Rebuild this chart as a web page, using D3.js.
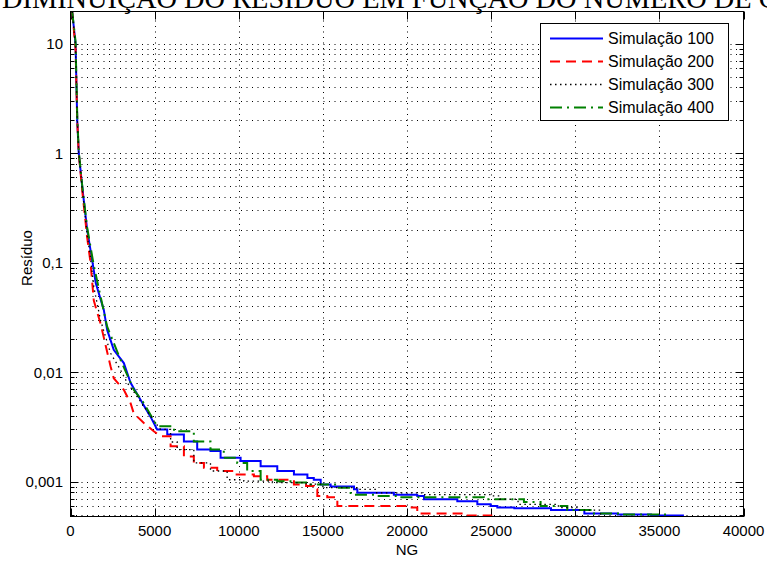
<!DOCTYPE html>
<html><head><meta charset="utf-8">
<script src="https://cdn.jsdelivr.net/npm/d3@7"></script>
<style>body{margin:0;background:#fff;overflow:hidden} svg{display:block}</style>
</head><body><svg id="c" width="767" height="561"></svg>
<script>
// ---------- data ----------
const title = "DIMINUIÇÃO DO RESÍDUO EM FUNÇÃO DO NÚMERO DE GERAÇÕES";
const xLabel = "NG";
const yLabel = "Resíduo";
const xTicks = [0, 5000, 10000, 15000, 20000, 25000, 30000, 35000, 40000];
const yTicks = [10, 1, 0.1, 0.01, 0.001];
const yTickLabels = ["10", "1", "0,1", "0,01", "0,001"];
const seriesNames = ["Simulação 100", "Simulação 200", "Simulação 300", "Simulação 400"];

const sim100 = [[100,19.7],[300,10],[400,2],[490,1],[700,0.49],[990,0.2],[1190,0.13],[1385,0.085],[1500,0.065],
  [1980,0.037],[2180,0.0243],[2570,0.016],[3170,0.0121],[3570,0.008],[4160,0.0056],[4760,0.0039],[5150,0.003],
  [5750,0.0027],[6740,0.00233],[7530,0.00196],[8320,0.0019],[8920,0.00165],[10110,0.00154],[11300,0.00138],
  [12290,0.00125],[13280,0.00116],[14080,0.00108],[14460,0.00104],[14870,0.00094],[15460,0.0009],[16850,0.00085],
  [17050,0.00079],[19220,0.00076],[20610,0.00074],[21010,0.00069],[22990,0.00066],[24180,0.00062],[24970,0.0006],
  [25370,0.00058],[26380,0.00057],[28560,0.00055],[30540,0.00051],[32520,0.0005],[34500,0.00049],[36460,0.00049]];

const sim200 = [[100,19.7],[300,9],[400,2],[490,1],[700,0.45],[990,0.17],[1190,0.1],[1385,0.045],[1780,0.028],
  [2380,0.0113],[2570,0.0088],[3170,0.0069],[3570,0.0052],[3760,0.0042],[4360,0.00343],[4950,0.00288],[5350,0.0026],
  [5950,0.0021],[6740,0.0017],[7330,0.00148],[7930,0.00134],[8720,0.00125],[9710,0.00116],[10900,0.00112],
  [11690,0.00104],[13280,0.00094],[14000,0.00091],[14470,0.00085],[14670,0.00074],[15260,0.00072],[15860,0.0006],
  [19630,0.0006],[20220,0.00058],[20610,0.00051],[23500,0.00049],[25070,0.00049]];

const sim300 = [[100,19.7],[300,9.5],[400,2.1],[490,1],[700,0.47],[990,0.18],[1190,0.11],[1385,0.06],[1780,0.03],
  [2380,0.0149],[2970,0.0105],[3370,0.008],[3960,0.006],[4360,0.00486],[4950,0.0036],[5350,0.003],[5950,0.0023],
  [6340,0.00196],[7330,0.00148],[8320,0.00125],[9310,0.00104],[10300,0.00101],[12000,0.00098],[14000,0.00095],
  [15000,0.00088],[17000,0.00085],[18200,0.00079],[21000,0.00076],[25000,0.00074],[25500,0.00069],[26600,0.00062],
  [29000,0.00058],[30100,0.00055],[31500,0.0005]];

const sim400 = [[100,19.7],[300,10.5],[400,2.2],[490,1.05],[700,0.5],[990,0.21],[1385,0.094],[2180,0.026],
  [2970,0.013],[3760,0.0069],[4360,0.0052],[5150,0.0032],[6150,0.00288],[7330,0.00233],[8320,0.00196],
  [9110,0.00165],[9910,0.00148],[10500,0.00125],[11300,0.00104],[12290,0.00101],[13280,0.00098],[14270,0.00094],
  [15850,0.00088],[16650,0.00076],[18230,0.00074],[19420,0.00072],[21400,0.00072],[24570,0.00069],[26950,0.00065],
  [27940,0.0006],[29530,0.00055],[30910,0.00051],[32700,0.0005],[35470,0.00049]];

const seriesData = [sim100, sim200, sim300, sim400];
const seriesColors = ["#0000ff", "#ff0000", "#000000", "#008000"];
const seriesDash = ["none", "10,6", "1.5,3.5", "12,5,2,5"];
const seriesWidth = [2, 2, 1.3, 2];

// ---------- layout ----------
const L = 70.5, R = 743.5, T = 11.5, B = 516.5;
const svg = d3.select("#c");
const x = d3.scaleLinear().domain([0, 40000]).range([L, R]);
const y = d3.scaleLog().domain([0.00048, 19.7]).range([B, T]);

const sans = "'Liberation Sans', Arial, Helvetica, sans-serif";
const serif = "'Liberation Serif','Times New Roman',serif";

// title (partly above the top edge, as in the reference)
const tt = svg.append("text").attr("x", 2).attr("y", 7.5)
  .attr("font-family", serif).attr("fill", "#000").text(title);
{
  const probe = svg.append("text").attr("font-family", serif)
    .attr("font-size", 20).text("DIMINUIÇÃO DO RESÍDUO EM FUNÇÃO DO NÚMERO DE ");
  const w = probe.node().getComputedTextLength();
  probe.remove();
  tt.attr("font-size", 20 * 750 / w);
}

// grid
const minorVals = [];
for (let d = -4; d <= 1; d++) for (let k = 1; k <= 9; k++) {
  const v = k * Math.pow(10, d);
  if (v > 0.00048 && v < 19.7) minorVals.push(v);
}
const grid = svg.append("g").attr("stroke", "#000").attr("stroke-width", 1).attr("stroke-dasharray", "1,4.5");
grid.selectAll("line.h").data(minorVals).join("line")
  .attr("x1", L).attr("x2", R)
  .attr("y1", d => Math.round(y(d)) + 0.5).attr("y2", d => Math.round(y(d)) + 0.5);
grid.selectAll("line.v").data(xTicks.slice(1, -1)).join("line")
  .attr("y1", B).attr("y2", T)
  .attr("x1", d => Math.round(x(d)) + 0.5).attr("x2", d => Math.round(x(d)) + 0.5);

// ticks
const tk = svg.append("g").attr("stroke", "#000").attr("stroke-width", 1);
minorVals.forEach(v => {
  const isMajor = yTicks.some(t => Math.abs(t - v) / t < 1e-6);
  const len = isMajor ? 8 : 4;
  const yy = Math.round(y(v)) + 0.5;
  tk.append("line").attr("x1", L).attr("x2", L + len).attr("y1", yy).attr("y2", yy);
  tk.append("line").attr("x1", R).attr("x2", R - len).attr("y1", yy).attr("y2", yy);
});
xTicks.forEach(v => {
  const xx = Math.round(x(v)) + 0.5;
  tk.append("line").attr("x1", xx).attr("x2", xx).attr("y1", B).attr("y2", B - 8);
  tk.append("line").attr("x1", xx).attr("x2", xx).attr("y1", T).attr("y2", T + 8);
});

// curves: smooth steep start, stepped tail
svg.append("clipPath").attr("id", "clip").append("rect")
  .attr("x", L).attr("y", T).attr("width", R - L).attr("height", B - T);
const lineLin = d3.line().x(d => x(d[0])).y(d => y(d[1]));
const lineStep = d3.line().x(d => x(d[0])).y(d => y(d[1])).curve(d3.curveStepAfter);
const cg = svg.append("g").attr("clip-path", "url(#clip)");
const split = 5000;
[0, 1, 3, 2].forEach(i => {
  const s = seriesData[i];
  const k = s.findIndex(d => d[0] > split);
  const head = s.slice(0, k + 1), tail = s.slice(k);
  const dStr = lineLin(head) + lineStep(tail).replace(/^M/, "L");
  cg.append("path").attr("d", dStr)
    .attr("fill", "none").attr("stroke", seriesColors[i]).attr("stroke-linejoin", "miter")
    .attr("stroke-width", seriesWidth[i]).attr("stroke-dasharray", seriesDash[i]);
});

// axes box
svg.append("rect").attr("x", L).attr("y", T).attr("width", R - L).attr("height", B - T)
  .attr("fill", "none").attr("stroke", "#000").attr("stroke-width", 1);

// tick labels
svg.append("g").selectAll("text").data(xTicks).join("text")
  .attr("x", d => x(d)).attr("y", 536).attr("text-anchor", "middle")
  .attr("font-family", sans).attr("font-size", 15).attr("fill", "#000").text(d => String(d));
svg.append("g").selectAll("text").data(yTicks).join("text")
  .attr("x", 63).attr("y", d => y(d) + 5.5).attr("text-anchor", "end")
  .attr("font-family", sans).attr("font-size", 15).attr("fill", "#000").text((d, i) => yTickLabels[i]);

// axis labels
svg.append("text").attr("x", (L + R) / 2).attr("y", 555).attr("text-anchor", "middle")
  .attr("font-family", sans).attr("font-size", 15).attr("fill", "#000").text(xLabel);
svg.append("text").attr("transform", "translate(32,258) rotate(-90)").attr("text-anchor", "middle")
  .attr("font-family", sans).attr("font-size", 15).attr("fill", "#000").text(yLabel);

// legend
const lg = svg.append("g");
lg.append("rect").attr("x", 540.5).attr("y", 23.5).attr("width", 188).attr("height", 97)
  .attr("fill", "#fff").attr("stroke", "#000").attr("stroke-width", 1);
seriesNames.forEach((n, i) => {
  const yy = 38.5 + i * 23;
  lg.append("line").attr("x1", 550).attr("x2", 603).attr("y1", yy).attr("y2", yy)
    .attr("stroke", seriesColors[i]).attr("stroke-width", seriesWidth[i]).attr("stroke-dasharray", seriesDash[i]);
  lg.append("text").attr("x", 608).attr("y", yy + 5.5).attr("font-family", sans)
    .attr("font-size", 16).attr("fill", "#000").text(n);
});
</script>
</body></html>
